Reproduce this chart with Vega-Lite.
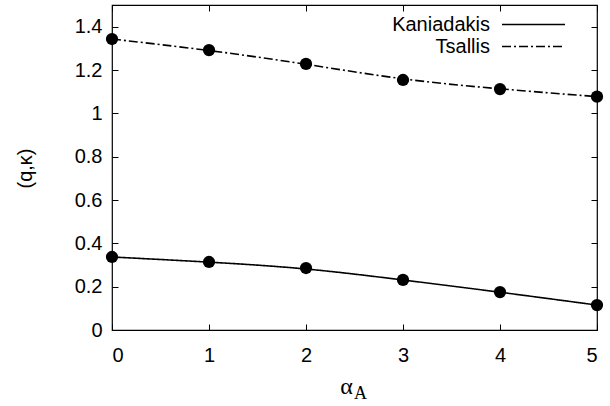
{
  "$schema": "https://vega.github.io/schema/vega-lite/v6.json",
  "width": 485,
  "height": 325,
  "autosize": {"type": "none"},
  "padding": {"left": 112, "top": 5, "right": 13, "bottom": 76},
  "background": "white",
  "config": {
    "view": {"stroke": "black", "strokeWidth": 1.2},
    "font": "Liberation Sans",
    "axis": {"grid": false, "domain": false, "tickColor": "black", "tickSize": -6, "tickWidth": 1, "labelFont": "Liberation Sans", "labelFontSize": 20, "labelColor": "black", "titleColor": "black"}
  },
  "data": {"values": [
    {"a": 0, "v": 0.337, "series": "Kaniadakis"},
    {"a": 1, "v": 0.314, "series": "Kaniadakis"},
    {"a": 2, "v": 0.286, "series": "Kaniadakis"},
    {"a": 3, "v": 0.231, "series": "Kaniadakis"},
    {"a": 4, "v": 0.175, "series": "Kaniadakis"},
    {"a": 5, "v": 0.115, "series": "Kaniadakis"},
    {"a": 0, "v": 1.343, "series": "Tsallis"},
    {"a": 1, "v": 1.292, "series": "Tsallis"},
    {"a": 2, "v": 1.228, "series": "Tsallis"},
    {"a": 3, "v": 1.154, "series": "Tsallis"},
    {"a": 4, "v": 1.112, "series": "Tsallis"},
    {"a": 5, "v": 1.077, "series": "Tsallis"}
  ]},
  "resolve": {"axis": {"x": "independent", "y": "independent"}},
  "layer": [
    {
      "mark": {"type": "line", "color": "black", "strokeWidth": 1.6, "interpolate": "basis"},
      "encoding": {
        "x": {"field": "a", "type": "quantitative", "scale": {"domain": [0, 5], "nice": false}, "axis": {"orient": "bottom", "values": [0,1,2,3,4,5], "labelPadding": 21, "title": "α", "titleFont": "Liberation Serif", "titleFontSize": 24, "titleFontWeight": "normal", "titleX": 234, "titleY": 56, "titleBaseline": "middle"}},
        "y": {"field": "v", "type": "quantitative", "scale": {"domain": [0, 1.5], "nice": false}, "axis": {"orient": "left", "values": [0,0.2,0.4,0.6,0.8,1,1.2,1.4], "format": ".1~f", "labelPadding": 16, "title": "(q,κ)", "titleFontSize": 20, "titleFontWeight": "normal", "titleX": -87, "titleY": 163, "titleAngle": -90, "titleAlign": "center", "titleBaseline": "middle"}},
        "strokeDash": {"field": "series", "type": "nominal", "scale": {"domain": ["Kaniadakis", "Tsallis"], "range": [[1, 0], [9, 3, 2, 3]]},
          "legend": {"orient": "none", "legendX": 410, "legendY": 8, "title": null, "symbolType": "M-3,0H3", "symbolSize": 441, "symbolStrokeWidth": 1.5, "symbolStrokeColor": "black", "labelAlign": "right", "labelOffset": -55, "labelFontSize": 20, "labelColor": "black", "rowPadding": -3}}
      }
    },
    {
      "mark": {"type": "circle", "color": "black", "opacity": 1, "size": 150},
      "encoding": {
        "x": {"field": "a", "type": "quantitative", "axis": null},
        "y": {"field": "v", "type": "quantitative", "axis": null}
      }
    },
    {
      "mark": {"type": "point", "opacity": 0},
      "encoding": {
        "x": {"field": "a", "type": "quantitative", "axis": {"orient": "top", "values": [0,1,2,3,4,5], "labels": false, "title": null}},
        "y": {"field": "v", "type": "quantitative", "axis": {"orient": "right", "values": [0,0.2,0.4,0.6,0.8,1,1.2,1.4], "labels": false, "title": null}}
      }
    },
    {
      "mark": {"type": "point", "opacity": 0},
      "encoding": {
        "x": {"field": "a", "type": "quantitative", "axis": {"orient": "bottom", "labels": false, "ticks": false, "title": "A", "titleFont": "Liberation Serif", "titleFontSize": 18, "titleFontWeight": "normal", "titleX": 248, "titleY": 63, "titleBaseline": "middle"}}
      }
    }
  ]
}
